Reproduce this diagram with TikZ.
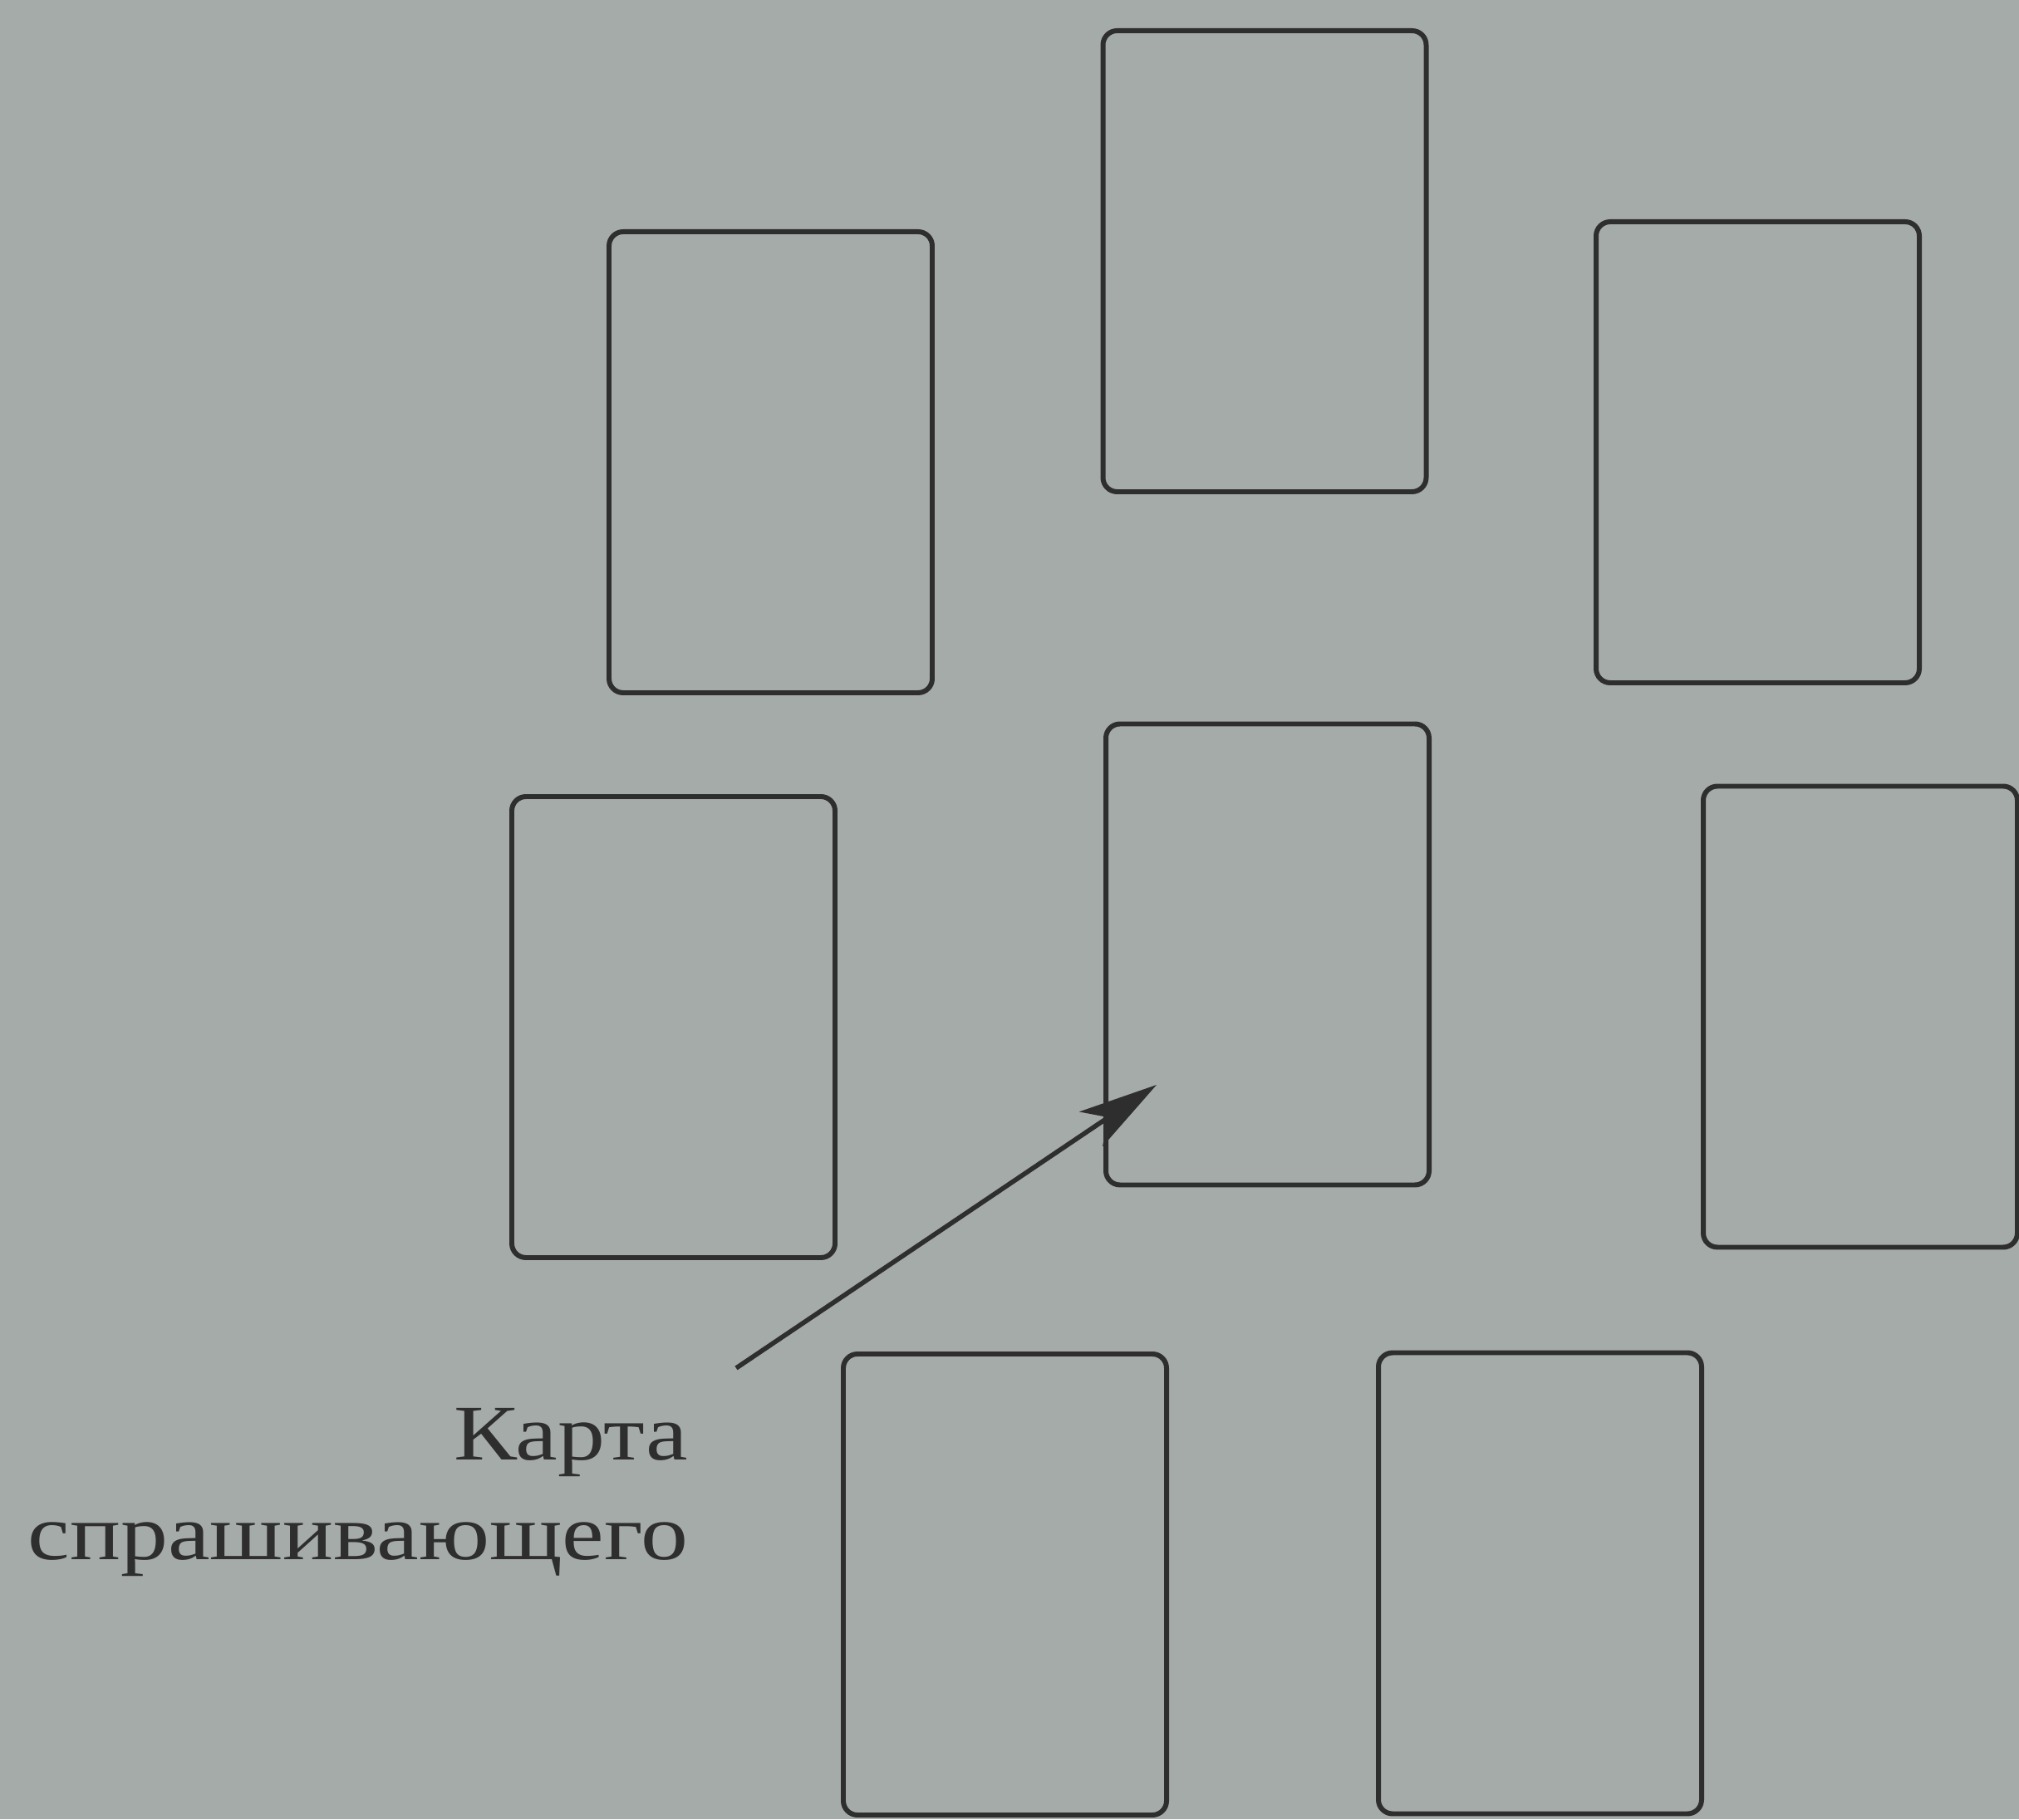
\documentclass[tikz,border=0pt]{standalone}
\usepackage{fontspec}
\setmainfont{Liberation Serif}
\newfontfamily\labelfont[FakeStretch=1.2]{Liberation Serif}
\usetikzlibrary{arrows.meta}
\definecolor{paper}{RGB}{165,171,169}
\definecolor{ink}{RGB}{46,46,46}
\tikzset{
  card/.style={draw=ink, line width=1.7pt, rounded corners=1.7mm,
    minimum width=3.89cm, minimum height=5.55cm, inner sep=0pt},
  pointer/.style={draw=ink, line width=1.6pt,
    -{Stealth[length=9.5mm, width=5mm, inset=2.5mm]}}
}

\begin{document}
\begin{tikzpicture}
    % фон страницы
    \useasboundingbox (0,0) rectangle (24.3,21.9);
    \fill[paper] (0,0) rectangle (24.3,21.9);
    % верхний ряд карт
    \node[card] (lefttop) at (9.275,16.335) {};
    \node[card] (midtop) at (15.22,18.755) {};
    \node[card] (righttop) at (21.155,16.455) {};
    % средний ряд карт
    \node[card] (leftmid) at (8.105,9.535) {};
    \node[card] (asker) at (15.255,10.41) {};
    \node[card, minimum width=3.78cm] (rightmid) at (22.39,9.66) {};
    % нижний ряд карт
    \node[card] (leftlow) at (12.095,2.825) {};
    \node[card] (rightlow) at (18.535,2.84) {};
    % подпись
    \node[anchor=north east, inner sep=0pt, align=right,
      font=\labelfont\fontsize{27}{34}\selectfont, text=ink] (caption)
      at (8.29,4.95) {Карта\\спрашивающего};
    % стрелка к карте спрашивающего
    \coordinate (tail) at (8.86,5.43);
    \coordinate (tip) at (13.92,8.84);
    \draw[pointer] (tail) -- (tip);
\end{tikzpicture}
\end{document}
